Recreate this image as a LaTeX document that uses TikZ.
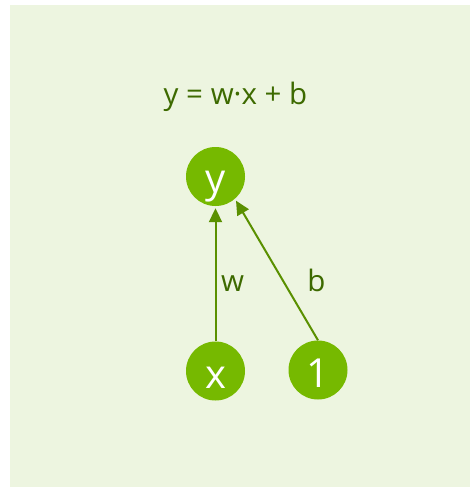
\documentclass[tikz,border=0pt]{standalone}
\usepackage{fontspec}
\setmainfont{Open Sans}
\usetikzlibrary{arrows.meta}
\definecolor{bgc}{HTML}{EDF5E0}
\definecolor{nodec}{HTML}{76B900}
\definecolor{arrc}{HTML}{5A9000}
\definecolor{txtc}{HTML}{3D6A00}
\tikzset{
  circ/.style={circle, fill=nodec, minimum size=59pt, inner sep=0pt},
  ctext/.style={text=white, font=\fontsize{40}{40}\selectfont, inner sep=0pt, anchor=base},
  ltext/.style={text=txtc, font=\fontsize{29.5}{29.5}\selectfont, inner sep=0pt, anchor=base},
  conn/.style={draw=arrc, line width=2pt, -{Triangle[length=14pt,width=13pt]}, shorten >=2pt}
}
\begin{document}
\begin{tikzpicture}[x=1pt,y=-1pt]
\useasboundingbox (0,0) rectangle (471,487);
\fill[white] (0,0) rectangle (471,487);
\fill[bgc] (10,5) rectangle (470,487);
\node[ltext] (title) at (235.5,104.5) {y = w·x + b};
\node[circ] (y) at (215.5,176.5) {};
\node[circ] (x) at (215.5,371) {};
\node[circ] (one) at (318,370) {};
\node[ctext] (ylab) at (215.5,192) {y};
\node[ctext] (xlab) at (215.5,388) {x};
\node[ctext] (onelab) at (318,387) {1};
\draw[conn] (x.north) -- (y.south);
\draw[conn] (one.north) -- (y.-49);
\node[ltext] (w) at (232.5,291) {w};
\node[ltext] (b) at (316.5,291) {b};
\end{tikzpicture}
\end{document}
